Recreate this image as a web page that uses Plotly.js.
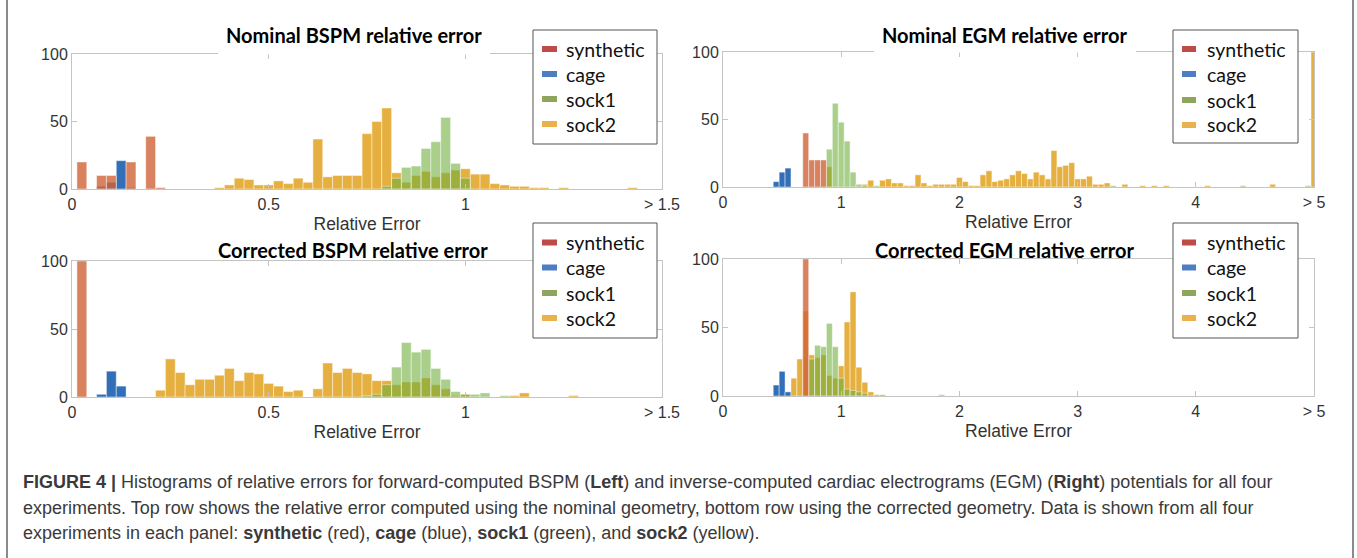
<!DOCTYPE html>
<html><head><meta charset="utf-8">
<script src="https://cdn.plot.ly/plotly-3.0.1.min.js"></script>
<style>html,body{margin:0;padding:0;background:#fff;overflow:hidden;} #chart{width:1357px;height:558px;}</style>
</head><body><div id="chart"></div>
<script>
// ---------------- data ----------------
const seriesNames = ['synthetic', 'cage', 'sock1', 'sock2'];
const panelTitles = ['Nominal BSPM relative error', 'Nominal EGM relative error',
                     'Corrected BSPM relative error', 'Corrected EGM relative error'];
const xAxisTitle = 'Relative Error';
const bspmTickVals = [0, 0.5, 1, 1.5];
const bspmTickText = ['0', '0.5', '1', '> 1.5'];
const egmTickVals = [0, 1, 2, 3, 4, 5];
const egmTickText = ['0', '1', '2', '3', '4', '> 5'];
const yTickVals = [0, 50, 100];
const bspmBinWidth = 0.025;
const egmBinWidth = 0.05;

// Nominal BSPM
const nomBspmSyntheticX = [0.025, 0.075, 0.1, 0.15, 0.2, 0.225];
const nomBspmSyntheticY = [20, 10, 10, 20, 39, 1];
const nomBspmCageX = [0.075, 0.1, 0.125, 0.15];
const nomBspmCageY = [2, 5, 21, 1];
const nomBspmSock1X = [0.8, 0.825, 0.85, 0.875, 0.9, 0.925, 0.95, 0.975, 1.0];
const nomBspmSock1Y = [2, 8, 16, 17, 30, 35, 53, 19, 8];
const nomBspmSock2X = [0.375, 0.4, 0.425, 0.45, 0.475, 0.5, 0.525, 0.55, 0.575, 0.6, 0.625, 0.65, 0.675, 0.7, 0.725,
                       0.75, 0.775, 0.8, 0.825, 0.85, 0.875, 0.9, 0.925, 0.95, 0.975, 1.0, 1.025, 1.05, 1.075, 1.1,
                       1.125, 1.15, 1.175, 1.2, 1.25, 1.425];
const nomBspmSock2Y = [1, 3, 8, 7, 3, 3, 6, 4, 8, 5, 37, 9, 10, 10, 10,
                       41, 50, 60, 12, 5, 10, 13, 9, 12, 14, 15, 11, 11, 4, 3,
                       2, 2, 1, 1, 1, 1];

// Nominal EGM
const nomEgmSyntheticX = [0.7, 0.75, 0.8, 0.85];
const nomEgmSyntheticY = [40, 20, 20, 20];
const nomEgmCageX = [0.45, 0.5, 0.55];
const nomEgmCageY = [4, 11, 14];
const nomEgmSock1X = [0.9, 0.95, 1.0, 1.05, 1.1, 1.15, 1.2, 1.3, 3.3, 4.4, 4.95];
const nomEgmSock1Y = [28, 62, 48, 34, 11, 2, 1, 1, 1, 1, 1];
const nomEgmSock2X = [0.9, 1.2, 1.25, 1.35, 1.4, 1.45, 1.5, 1.55, 1.6, 1.65, 1.7, 1.75, 1.8, 1.85, 1.9, 1.95,
                      2.0, 2.05, 2.1, 2.15, 2.2, 2.25, 2.3, 2.35, 2.4, 2.45, 2.5, 2.55, 2.6, 2.65, 2.7, 2.75,
                      2.8, 2.85, 2.9, 2.95, 3.0, 3.05, 3.1, 3.15, 3.2, 3.25, 3.4, 3.55, 3.65, 3.75, 4.1, 4.65, 5.0];
const nomEgmSock2Y = [15, 2, 5, 5, 6, 3, 3, 1, 1, 9, 3, 1, 2, 2, 2, 2,
                      7, 4, 1, 1, 9, 12, 4, 5, 6, 9, 12, 10, 6, 11, 9, 6,
                      27, 15, 16, 18, 6, 6, 8, 2, 2, 3, 2, 1, 1, 1, 1, 2, 100];

// Corrected BSPM
const corBspmSyntheticX = [0.025];
const corBspmSyntheticY = [100];
const corBspmCageX = [0.075, 0.1, 0.125];
const corBspmCageY = [2, 19, 8];
const corBspmSock1X = [0.75, 0.775, 0.8, 0.825, 0.85, 0.875, 0.9, 0.925, 0.95, 0.975, 1.0, 1.025, 1.05, 1.1];
const corBspmSock1Y = [1, 2, 9, 22, 40, 33, 35, 21, 13, 4, 2, 2, 3, 1];
const corBspmSock2X = [0.225, 0.25, 0.275, 0.3, 0.325, 0.35, 0.375, 0.4, 0.425, 0.45, 0.475, 0.5, 0.525, 0.55, 0.575,
                       0.625, 0.65, 0.675, 0.7, 0.725, 0.75, 0.775, 0.8, 0.825, 0.85, 0.875, 0.9, 0.925, 0.95, 0.975,
                       1.0, 1.125, 1.15, 1.275];
const corBspmSock2Y = [5, 28, 18, 9, 13, 13, 16, 21, 12, 18, 17, 10, 8, 4, 5,
                       6, 25, 18, 21, 18, 17, 12, 12, 9, 11, 11, 14, 9, 6, 1,
                       2, 1, 3, 1];

// Corrected EGM
const corEgmSyntheticX = [0.7];
const corEgmSyntheticY = [100];
const corEgmCageX = [0.45, 0.5, 0.55];
const corEgmCageY = [8, 18, 3];
const corEgmSock1X = [0.75, 0.8, 0.85, 0.9, 0.95, 1.0, 1.05, 1.1, 1.15, 1.2, 1.85];
const corEgmSock1Y = [27, 37, 36, 53, 36, 13, 5, 4, 3, 2, 1];
const corEgmSock2X = [0.6, 0.65, 0.7, 0.75, 0.8, 0.85, 0.9, 0.95, 1.0, 1.05, 1.1, 1.15, 1.2, 1.25, 1.3, 1.35];
const corEgmSock2Y = [13, 27, 62, 30, 28, 30, 15, 13, 22, 54, 76, 21, 10, 3, 1, 1];

const captionLines = [
  '<b>FIGURE 4 |</b> Histograms of relative errors for forward-computed BSPM (<b>Left</b>) and inverse-computed cardiac electrograms (EGM) (<b>Right</b>) potentials for all four',
  'experiments. Top row shows the relative error computed using the nominal geometry, bottom row using the corrected geometry. Data is shown from all four',
  'experiments in each panel: <b>synthetic</b> (red), <b>cage</b> (blue), <b>sock1</b> (green), and <b>sock2</b> (yellow).'
];

// ---------------- styles ----------------
const W = 1357, H = 558;
const px = v => v / W;
const py = v => 1 - v / H;

const barColors = {
  synthetic: 'rgba(207,99,55,0.8)',
  cage: 'rgba(38,104,180,0.95)',
  sock1: 'rgba(112,175,62,0.6)',
  sock2: 'rgba(226,162,31,0.85)'
};
const swatchColors = {synthetic: '#BE4B48', cage: '#4F7DC1', sock1: '#8EA65C', sock2: '#E9B24D'};
const drawOrder = ['cage', 'sock2', 'sock1', 'synthetic'];

const panelData = [
  {synthetic: [nomBspmSyntheticX, nomBspmSyntheticY], cage: [nomBspmCageX, nomBspmCageY],
   sock1: [nomBspmSock1X, nomBspmSock1Y], sock2: [nomBspmSock2X, nomBspmSock2Y]},
  {synthetic: [nomEgmSyntheticX, nomEgmSyntheticY], cage: [nomEgmCageX, nomEgmCageY],
   sock1: [nomEgmSock1X, nomEgmSock1Y], sock2: [nomEgmSock2X, nomEgmSock2Y]},
  {synthetic: [corBspmSyntheticX, corBspmSyntheticY], cage: [corBspmCageX, corBspmCageY],
   sock1: [corBspmSock1X, corBspmSock1Y], sock2: [corBspmSock2X, corBspmSock2Y]},
  {synthetic: [corEgmSyntheticX, corEgmSyntheticY], cage: [corEgmCageX, corEgmCageY],
   sock1: [corEgmSock1X, corEgmSock1Y], sock2: [corEgmSock2X, corEgmSock2Y]}
];

// panel geometry in pixels
const panels = [
  {xs: '', xd: [72, 662], yd: [54, 189], range: [0, 1.5], tv: bspmTickVals, tt: bspmTickText, bw: bspmBinWidth,
   title: [353.5, 35], legend: {box: [533, 657, 30, 144], sw: [542, 557], tx: 565, ys: [49, 74, 99, 124]},
   cover: [218, 490, 12, 54.5]},
  {xs: '2', xd: [723, 1314], yd: [52, 187], range: [0, 5], tv: egmTickVals, tt: egmTickText, bw: egmBinWidth,
   title: [1004, 35], legend: {box: [1173, 1298, 30, 143], sw: [1182, 1196], tx: 1206, ys: [49, 74, 100, 125]},
   cover: [874, 1136, 12, 52.5]},
  {xs: '3', xd: [72, 662], yd: [261, 397], range: [0, 1.5], tv: bspmTickVals, tt: bspmTickText, bw: bspmBinWidth,
   title: [353, 250], legend: {box: [533, 657, 223, 338], sw: [542, 557], tx: 565, ys: [242.5, 267.5, 293, 318]},
   cover: null},
  {xs: '4', xd: [723, 1314], yd: [259, 396], range: [0, 5], tv: egmTickVals, tt: egmTickText, bw: egmBinWidth,
   title: [1004.5, 250], legend: {box: [1173, 1298, 223, 338], sw: [1182, 1196], tx: 1206, ys: [242.5, 267.5, 293, 318]},
   cover: null}
];

const axisGray = '#c4c4c4';
const tickFont = {family: 'Liberation Sans, Arial, sans-serif', size: 16, color: '#333'};

const traces = [];
const layout = {
  width: W, height: H, margin: {l: 0, r: 0, t: 0, b: 0},
  paper_bgcolor: '#fff', plot_bgcolor: '#fff',
  barmode: 'overlay', showlegend: false,
  shapes: [], annotations: []
};

panels.forEach((p, i) => {
  const xa = 'x' + p.xs, ya = 'y' + p.xs;
  drawOrder.forEach(name => {
    const [xs, ys] = panelData[i][name];
    traces.push({
      type: 'bar', name: name, x: xs, y: ys, width: p.bw,
      xaxis: xa, yaxis: ya, showlegend: false, hoverinfo: 'x+y+name',
      marker: {color: barColors[name], line: {color: 'rgba(255,255,255,0.55)', width: 0.8}}
    });
  });
  layout['xaxis' + p.xs] = {
    domain: [px(p.xd[0]), px(p.xd[1])], anchor: ya, range: p.range, fixedrange: true,
    tickmode: 'array', tickvals: p.tv, ticktext: p.tt,
    showline: true, mirror: 'ticks', linecolor: axisGray, linewidth: 1,
    ticks: 'inside', ticklen: 5, tickcolor: axisGray, tickwidth: 1,
    showgrid: false, zeroline: false, tickfont: tickFont, ticklabelstandoff: 1,
    title: {text: xAxisTitle, font: {family: 'Liberation Sans, Arial, sans-serif', size: 17.5, color: '#333'}, standoff: 5.5}
  };
  layout['yaxis' + p.xs] = {
    domain: [py(p.yd[1]), py(p.yd[0])], anchor: xa, range: [0, 100], fixedrange: true,
    tickmode: 'array', tickvals: yTickVals,
    showline: true, mirror: 'ticks', linecolor: axisGray, linewidth: 1,
    ticks: 'inside', ticklen: 5, tickcolor: axisGray, tickwidth: 1,
    showgrid: false, zeroline: false, tickfont: tickFont
  };
  // white cover behind top titles
  if (p.cover) {
    layout.shapes.push({type: 'rect', xref: 'paper', yref: 'paper', layer: 'above',
      x0: px(p.cover[0]), x1: px(p.cover[1]), y0: py(p.cover[3]), y1: py(p.cover[2]),
      fillcolor: '#fff', line: {width: 0}});
  }
  // panel title
  layout.annotations.push({xref: 'paper', yref: 'paper', x: px(p.title[0]), y: py(p.title[1]),
    xanchor: 'center', yanchor: 'middle', showarrow: false, text: panelTitles[i],
    font: {family: 'Lato, Carlito, Calibri, sans-serif', size: 20, color: '#000', weight: 700}});
  // legend box
  const L = p.legend;
  layout.shapes.push({type: 'rect', xref: 'paper', yref: 'paper', layer: 'above',
    x0: px(L.box[0]), x1: px(L.box[1]), y0: py(L.box[3]), y1: py(L.box[2]),
    fillcolor: '#fff', line: {color: '#555', width: 1}});
  seriesNames.forEach((name, k) => {
    const yc = L.ys[k];
    layout.shapes.push({type: 'rect', xref: 'paper', yref: 'paper', layer: 'above',
      x0: px(L.sw[0]), x1: px(L.sw[1]), y0: py(yc + 3), y1: py(yc - 3),
      fillcolor: swatchColors[name], line: {width: 0}});
    layout.annotations.push({xref: 'paper', yref: 'paper', x: px(L.tx), y: py(yc),
      xanchor: 'left', yanchor: 'middle', showarrow: false, text: name, borderpad: 0,
      font: {family: 'Lato, Carlito, Calibri, sans-serif', size: 19.5, color: '#111'}});
  });
});

// outer frame lines
layout.shapes.push({type: 'line', xref: 'paper', yref: 'paper', layer: 'above',
  x0: px(7), x1: px(7), y0: 0, y1: 1, line: {color: '#8a8a8a', width: 2}});
layout.shapes.push({type: 'line', xref: 'paper', yref: 'paper', layer: 'above',
  x0: px(1353), x1: px(1353), y0: 0, y1: 1, line: {color: '#8a8a8a', width: 2}});

// caption
const captionY = [482, 507.5, 533];
captionLines.forEach((t, k) => {
  layout.annotations.push({xref: 'paper', yref: 'paper', x: px(22), y: py(captionY[k]),
    xanchor: 'left', yanchor: 'middle', showarrow: false, text: t, borderpad: 0,
    font: {family: 'Liberation Sans, Arial, sans-serif', size: 18, color: '#3a3a3a'}});
});

Plotly.newPlot('chart', traces, layout, {staticPlot: true, displayModeBar: false});
</script>
</body></html>
